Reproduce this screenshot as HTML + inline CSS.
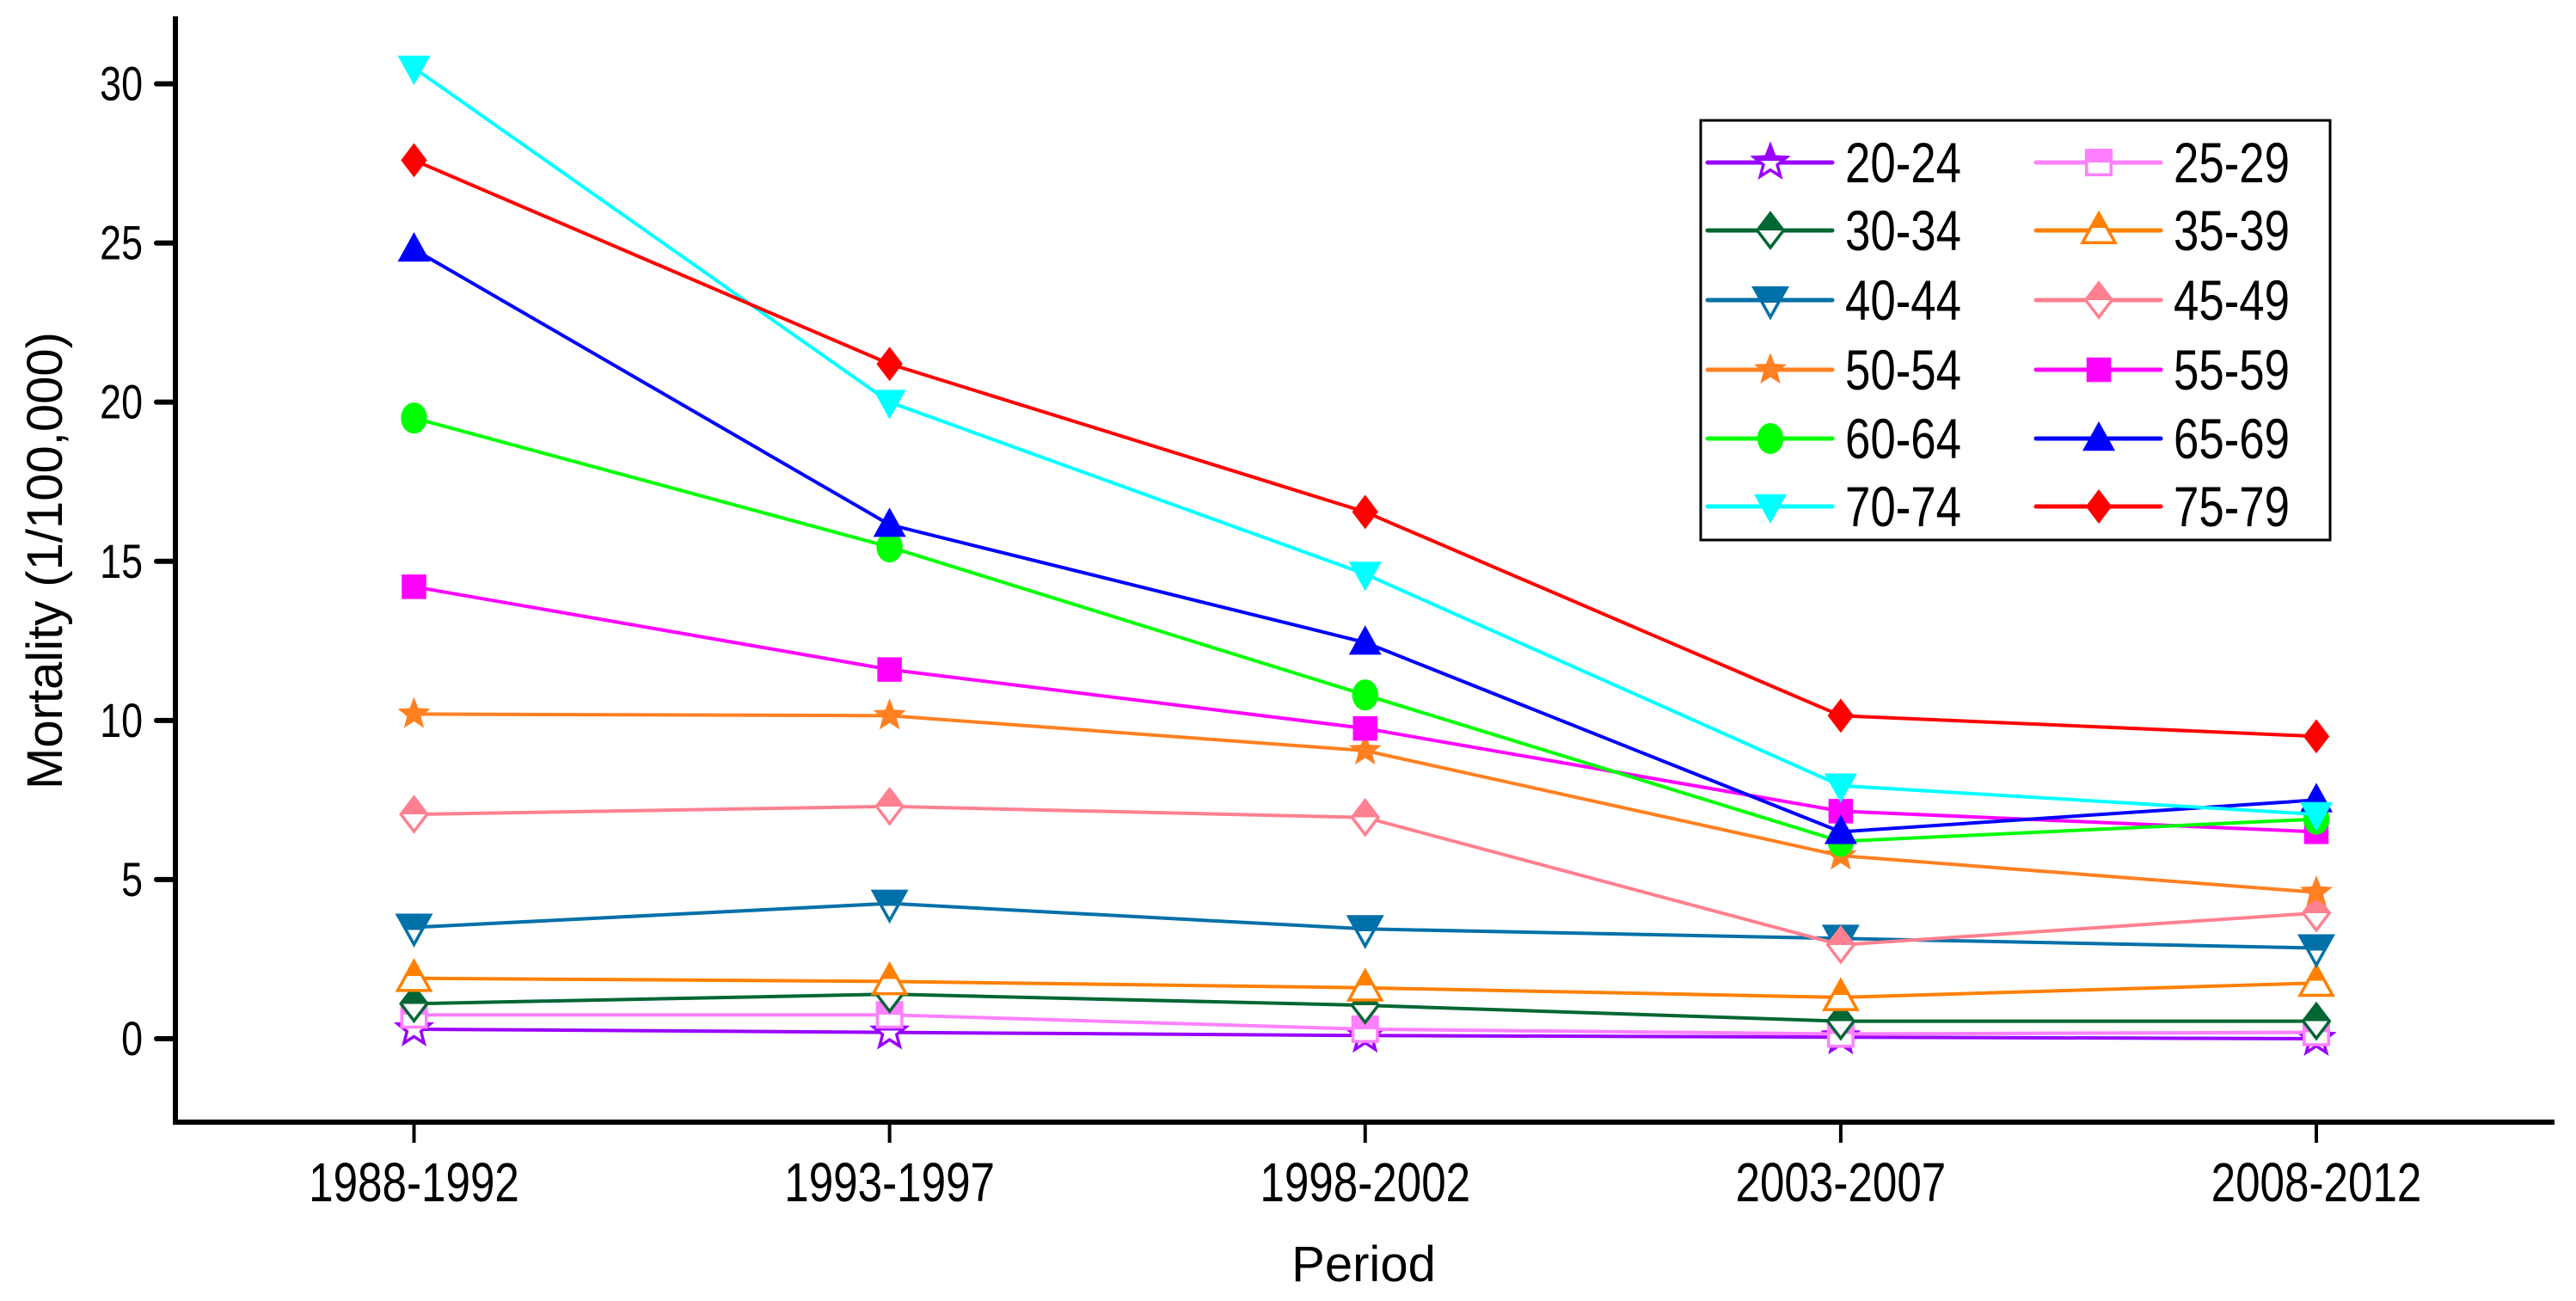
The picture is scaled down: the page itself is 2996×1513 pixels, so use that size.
<!DOCTYPE html>
<html><head><meta charset="utf-8"><style>
html,body{margin:0;padding:0;background:#fff}
svg{display:block;font-family:"Liberation Sans",Arial,sans-serif}
</style></head><body>
<svg id="chart" width="2996" height="1513" viewBox="0 0 2996 1513" xmlns="http://www.w3.org/2000/svg">
<defs id="defs"></defs>
<g id="axes"></g>
<g id="series"></g>
<g id="legend"></g>
</svg>
<script>
const categories = ["1988-1992","1993-1997","1998-2002","2003-2007","2008-2012"];
const yTicks = [0,5,10,15,20,25,30];
const seriesNames = ["20-24","25-29","30-34","35-39","40-44","45-49","50-54","55-59","60-64","65-69","70-74","75-79"];
const s2024 = [0.3,0.2,0.1,0.05,0.0];
const s2529 = [0.75,0.75,0.3,0.15,0.2];
const s3034 = [1.1,1.4,1.05,0.55,0.55];
const s3539 = [1.9,1.8,1.6,1.3,1.75];
const s4044 = [3.5,4.25,3.45,3.15,2.85];
const s4549 = [7.05,7.3,6.95,2.95,3.95];
const s5054 = [10.2,10.15,9.05,5.75,4.6];
const s5559 = [14.2,11.6,9.75,7.15,6.5];
const s6064 = [19.5,15.45,10.8,6.2,6.9];
const s6569 = [24.8,16.15,12.45,6.5,7.5];
const s7074 = [30.5,20.0,14.6,7.95,7.05];
const s7579 = [27.6,21.2,16.55,10.15,9.5];
const seriesValues = [s2024,s2529,s3034,s3539,s4044,s4549,s5054,s5559,s6064,s6569,s7074,s7579];

const colors = ["#9900ff","#ff80ff","#006633","#ff8000","#0070a8","#ff8090","#ff8020","#ff00ff","#00ff00","#0000ff","#00ffff","#ff0000"];
const shapes = ["star","square","diamond","tri","dtri","diamond","star","square","circle","tri","dtri","diamond"];
const half = [true,true,true,true,true,true,false,false,false,false,false,false];

const NS="http://www.w3.org/2000/svg";
const X0=204, XR=2971, YT=19, YB=1305;
const xPos=[481.5,1033.7,1586,2142,2694];
const MR=19;
function xScale(i){return xPos[0]+i*(xPos[4]-xPos[0])/(categories.length-1);}
function yScale(v){return 1208+(97.5-1208)*v/30;}
function mk(tag,attrs,parent){const e=document.createElementNS(NS,tag);for(const k in attrs)e.setAttribute(k,attrs[k]);parent.appendChild(e);return e;}
function ntext(parent,x,y,size,anchor,str){
  const t=mk('text',{x:0,y:0,'text-anchor':anchor,'font-size':size,transform:`translate(${x},${y}) scale(0.8,1)`},parent);
  t.textContent=str;return t;
}

const defs=document.getElementById('defs');
colors.forEach((c,i)=>{
  const g=mk('linearGradient',{id:'hf'+i,x1:'0',y1:'0',x2:'0',y2:'1'},defs);
  mk('stop',{offset:'0.5','stop-color':c},g);
  mk('stop',{offset:'0.5','stop-color':'#fff'},g);
});

function shapePath(sh,x,y,r){
  if(sh==='square')return `M${x-r*0.75},${y-r*0.75}h${r*1.5}v${r*1.5}h${-r*1.5}z`;
  if(sh==='diamond')return `M${x},${y-r*1.05}L${x+r*0.8},${y}L${x},${y+r*1.05}L${x-r*0.8},${y}z`;
  if(sh==='tri')return `M${x},${y-r*1.05}L${x+r},${y+r*0.75}L${x-r},${y+r*0.75}z`;
  if(sh==='dtri')return `M${x},${y+r*1.05}L${x+r},${y-r*0.75}L${x-r},${y-r*0.75}z`;
  if(sh==='star'){let p='';for(let k=0;k<10;k++){const a=-Math.PI/2+k*Math.PI/5;const rr=k%2?r*0.45:r*1.05;p+=(k?'L':'M')+(x+rr*Math.cos(a)).toFixed(1)+','+(y+rr*Math.sin(a)).toFixed(1);}return p+'z';}
  return null;
}
function drawMarker(parent,i,x,y,r){
  const sh=shapes[i];const fill=half[i]?'url(#hf'+i+')':colors[i];
  let e;
  if(sh==='circle'){e=mk('ellipse',{cx:x,cy:y,rx:r*0.8,ry:r*0.95,fill:fill},parent);}
  else{e=mk('path',{d:shapePath(sh,x,y,r),fill:fill,stroke:colors[i],'stroke-width':half[i]?3.5:0,'stroke-linejoin':'miter'},parent);}
  return e;
}

// axes
const ax=document.getElementById('axes');
const yl=mk('line',{x1:X0,y1:YT,x2:X0,y2:YB+3,stroke:'#000','stroke-width':6},ax);


const xl=mk('line',{x1:X0-3,y1:YB,x2:XR,y2:YB,stroke:'#000','stroke-width':6},ax);


yTicks.forEach(v=>{
  const y=yScale(v);
  const t=mk('line',{x1:X0-22,y1:y,x2:X0,y2:y,stroke:'#000','stroke-width':6,'stroke-linecap':'round'},ax);
  
  
  const tx=ntext(ax,X0-38,y+19,56,'end',String(v));
  
  
});
categories.forEach((c,i)=>{
  const x=xScale(i);
  const t=mk('line',{x1:x,y1:YB,x2:x,y2:YB+24,stroke:'#000','stroke-width':4},ax);
  
  
  const tx=ntext(ax,x,YB+92,64,'middle',c);
  
  
});
const xt=mk('text',{x:1586,y:1490,'text-anchor':'middle','font-size':58},ax);xt.textContent='Period';


const yt=mk('text',{x:0,y:0,'text-anchor':'middle','font-size':58,transform:'translate(72,652) rotate(-90)'},ax);yt.textContent='Mortality (1/100,000)';



// series
const sg=document.getElementById('series');
seriesValues.forEach((vals,i)=>{
  const g=mk('g',{},sg);
  
  
  const pts=vals.map((v,j)=>xScale(j)+','+yScale(v)).join(' ');
  const pl=mk('polyline',{points:pts,fill:'none',stroke:colors[i],'stroke-width':4},g);
  
  
  vals.forEach((v,j)=>{
    const m=drawMarker(g,i,xScale(j),yScale(v),MR);
    
    
  });
});

// legend
const lg=document.getElementById('legend');
const box=mk('rect',{x:1978,y:140,width:732,height:488,fill:'#fff',stroke:'#000','stroke-width':3},lg);


const rowY=[189,268,349,430,510,589];
seriesNames.forEach((n,i)=>{
  const col=i%2,row=Math.floor(i/2);
  const lx=col?2368:1986, y=rowY[row];
  const g=mk('g',{},lg);
  
  
  mk('line',{x1:lx,y1:y,x2:lx+145,y2:y,stroke:colors[i],'stroke-width':5,'stroke-linecap':'round'},g);
  drawMarker(g,i,lx+73,y,MR);
  ntext(g,lx+160,y+23,66,'start',n);
});
</script>
</body></html>
